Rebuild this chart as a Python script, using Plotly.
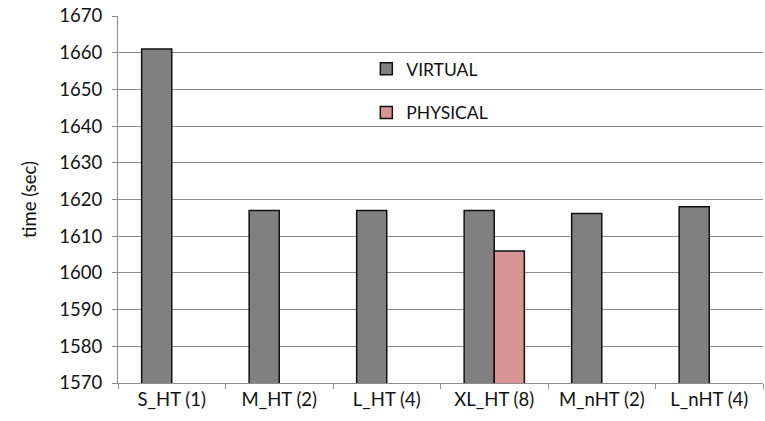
import plotly.graph_objects as go

categories = ["S_HT (1)", "M_HT (2)", "L_HT (4)", "XL_HT (8)", "M_nHT (2)", "L_nHT (4)"]
virtual = [1661, 1617, 1617, 1617, 1616.2, 1618]
physical = [None, None, None, 1606, None, None]
y_ticks = [1570, 1580, 1590, 1600, 1610, 1620, 1630, 1640, 1650, 1660, 1670]

FONT = "Lato, Open Sans, sans-serif"
FS = 18.5

fig = go.Figure()
fig.add_trace(go.Bar(
    x=categories, y=virtual, name="VIRTUAL", legendgroup="v",
    marker=dict(color="#808080", line=dict(color="#111111", width=1.5)),
))
fig.add_trace(go.Bar(
    x=categories, y=physical, name="PHYSICAL", legendgroup="p",
    marker=dict(color="#d99594", line=dict(color="#111111", width=1.5)),
))

fig.update_layout(
    width=765, height=421,
    margin=dict(l=118, r=2, t=16, b=38),
    paper_bgcolor="white", plot_bgcolor="white",
    barmode="group", bargap=0.44, bargroupgap=0,
    font=dict(family=FONT, size=FS, color="#111111"),
    showlegend=True,
    legend=dict(
        x=0.385, y=0.905, xanchor="left", yanchor="top",
        bgcolor="rgba(0,0,0,0)", tracegroupgap=18,
        font=dict(family=FONT, size=17.5, color="#111111"),
        itemwidth=30,
    ),
    xaxis=dict(
        showline=True, linecolor="#8c8c8c", linewidth=1.2,
        ticks="outside", tickson="boundaries", ticklen=5, tickcolor="#8c8c8c",
        showgrid=False, tickfont=dict(size=FS),
    ),
    yaxis=dict(
        range=[1570, 1670], tickvals=y_ticks,
        showline=True, linecolor="#8c8c8c", linewidth=1.2,
        ticks="outside", ticklen=5, tickcolor="#8c8c8c",
        showgrid=True, gridcolor="#8c8c8c", gridwidth=1.2,
        zeroline=False, tickfont=dict(size=FS), ticklabelstandoff=6,
        title=dict(text="time (sec)", font=dict(size=FS), standoff=17),
    ),
)

fig.write_html("out.html", config={"displayModeBar": False})

with open("out.html", "r", encoding="utf-8") as f:
    html = f.read()
html = html.replace("<head>", "<head><style>html,body{margin:0;padding:0;overflow:hidden;}</style>", 1)
with open("out.html", "w", encoding="utf-8") as f:
    f.write(html)
